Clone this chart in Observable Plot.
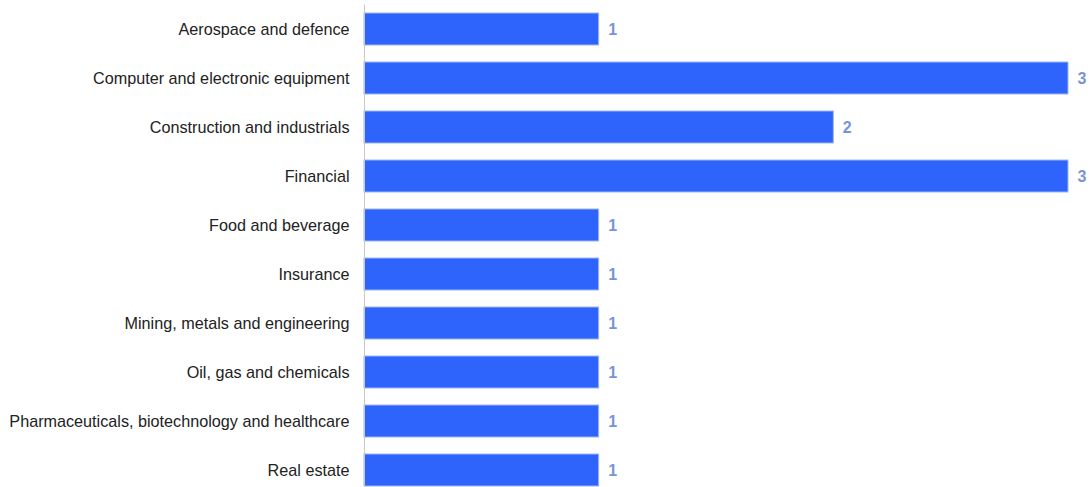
<!DOCTYPE html>
<html><head><meta charset="utf-8">
<script src="https://cdn.jsdelivr.net/npm/d3@7"></script>
<script src="https://cdn.jsdelivr.net/npm/@observablehq/plot@0.6"></script>
<style>body{margin:0;background:#fff;overflow:hidden}</style>
</head><body><div id="chart"></div>
<script>
const categories = [
  "Aerospace and defence",
  "Computer and electronic equipment",
  "Construction and industrials",
  "Financial",
  "Food and beverage",
  "Insurance",
  "Mining, metals and engineering",
  "Oil, gas and chemicals",
  "Pharmaceuticals, biotechnology and healthcare",
  "Real estate"
];
const values = [1, 3, 2, 3, 1, 1, 1, 1, 1, 1];
const data = categories.map((c, i) => ({category: c, value: values[i]}));

const chart = Plot.plot({
  width: 1091,
  height: 495,
  marginLeft: 364,
  marginRight: 23,
  marginTop: 4.5,
  marginBottom: 0.5,
  x: {domain: [0, 3], axis: null},
  y: {domain: categories, paddingInner: 0.35, paddingOuter: 0.175, axis: null},
  style: {fontFamily: "'Liberation Sans', Arial, sans-serif", fontSize: "16px", color: "#222", background: "#fff"},
  marks: [
    Plot.barX(data, {x: "value", y: "category", fill: "#2e64fb", stroke: "#9db7f2", strokeWidth: 1}),
    Plot.ruleX([0], {stroke: "#c8c8c8", strokeWidth: 1}),
    Plot.text(data, {x: "value", y: "category", text: d => String(d.value), dx: 9, textAnchor: "start", fill: "#7894d8", fontWeight: "bold", fontSize: 16}),
    Plot.axisY({tickSize: 0, tickPadding: 15, fontSize: 16.2, label: null, fill: "#222"})
  ]
});
document.getElementById("chart").append(chart);
</script>
</body></html>
